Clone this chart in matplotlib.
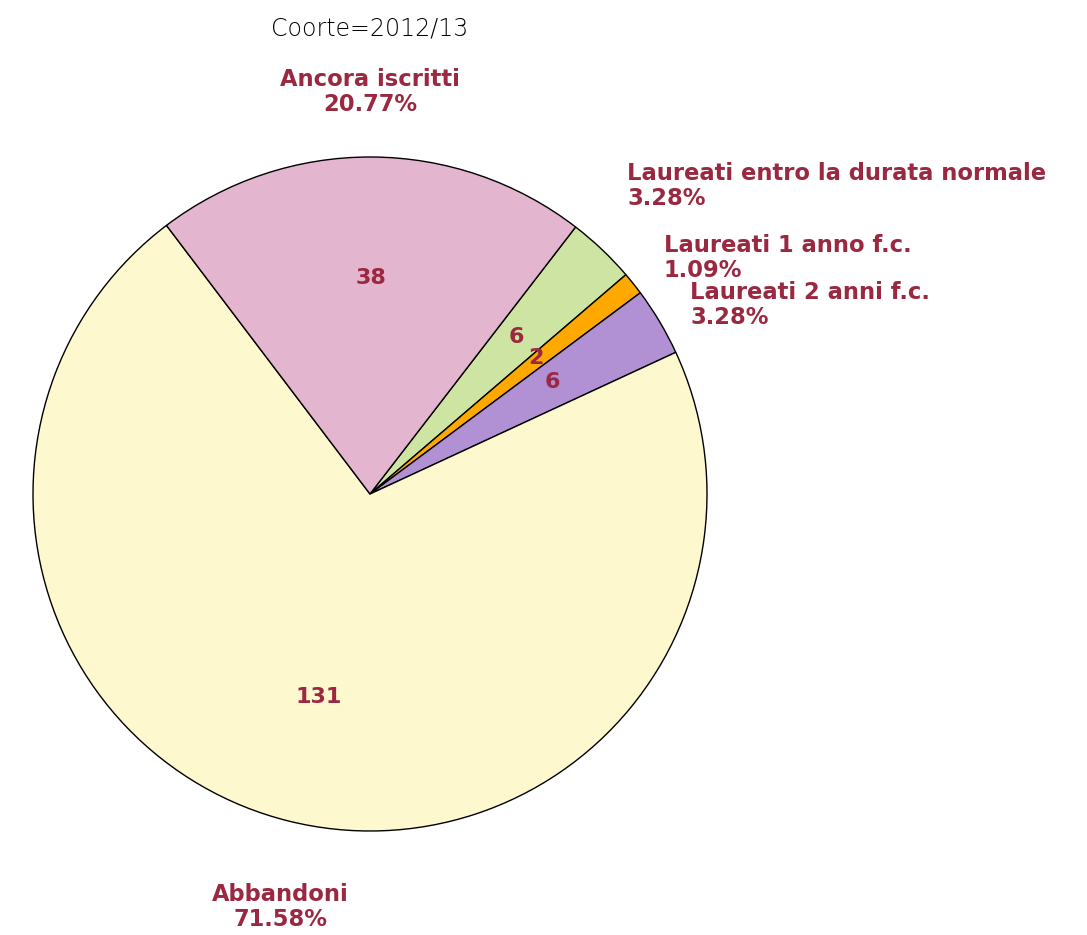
import numpy as np
import matplotlib.pyplot as plt

# dati coorte 2012/13
labels = ['Laureati entro la durata normale', 'Laureati 1 anno f.c.',
          'Laureati 2 anni f.c.', 'Abbandoni', 'Ancora iscritti']
counts = [6, 2, 6, 131, 38]
colors = ['#CDE4A3', '#FFA800', '#B190D3', '#FEF8CE', '#E4B5CE']
title = 'Coorte=2012/13'

txt_col = '#9A2840'

fig = plt.figure(figsize=(10.87, 9.35), dpi=100)
ax = fig.add_axes([0, 0, 1, 1])

tot = sum(counts)
wedges, texts = ax.pie(counts, colors=colors, startangle=52.4, counterclock=False,
                       wedgeprops=dict(edgecolor='black', linewidth=1.0))

# numeri interni
for w, c in zip(wedges, counts):
    ang = np.deg2rad((w.theta1 + w.theta2) / 2)
    ax.text(0.63 * np.cos(ang), 0.63 * np.sin(ang) + 0.01, str(c), ha='center', va='center',
            fontsize=16, fontweight='bold', color=txt_col)

# etichette esterne (posizioni di layout)
lab_pos = [(0.763, 0.914, 'left'), (0.872, 0.700, 'left'), (0.950, 0.561, 'left'),
           (-0.267, -1.226, 'center'), (0.0, 1.193, 'center')]
for lab, c, (x, y, ha) in zip(labels, counts, lab_pos):
    ax.text(x, y, '%s\n%.2f%%' % (lab, 100.0 * c / tot), ha=ha, va='center',
            multialignment=ha, fontsize=16.3, fontweight='bold', color=txt_col,
            linespacing=1.1)

ax.text(0.0, 1.382, title, ha='center', va='center', fontsize=17,
        fontweight=200, color='black')

ax.set_aspect('auto')
ax.set_xlim(-370 / 337, (1087 - 370) / 337)
ax.set_ylim(-(935 - 494) / 337, 494 / 337)
ax.axis('off')

plt.savefig('out.png', dpi=100)
